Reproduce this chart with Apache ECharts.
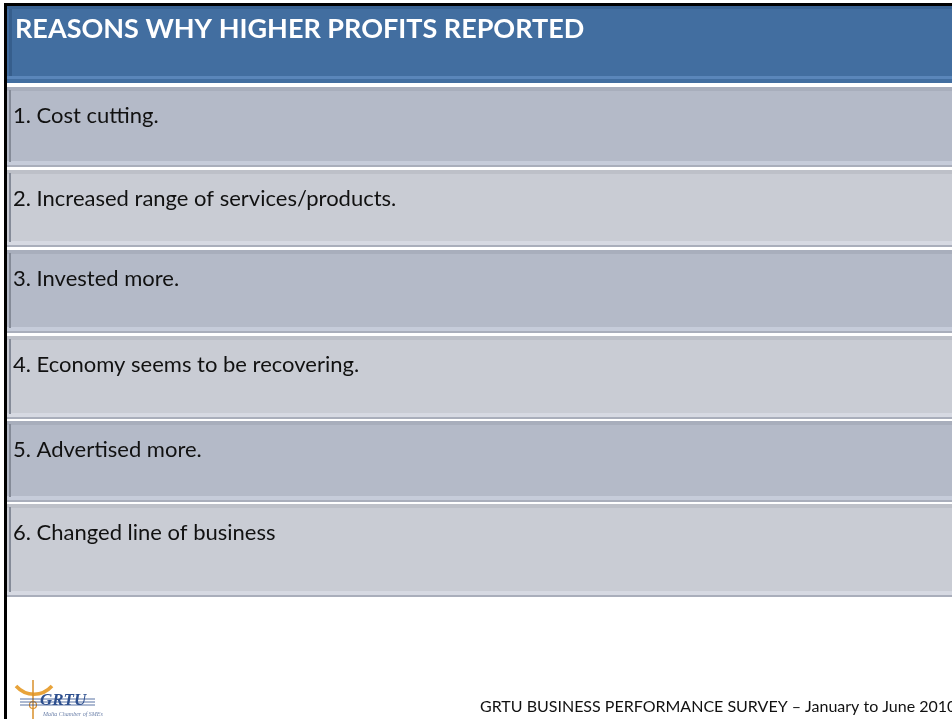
<!DOCTYPE html>
<html>
<head>
<meta charset="utf-8">
<script src="https://cdn.jsdelivr.net/npm/echarts@6/dist/echarts.min.js"></script>
<style>
  html, body { margin: 0; padding: 0; background: #fff; }
  #main { width: 952px; height: 719px; }
</style>
</head>
<body>
<div id="main"></div>
<script>
var titleText = 'REASONS WHY HIGHER PROFITS REPORTED';
var reasons = [
  '1. Cost cutting.',
  '2. Increased range of services/products.',
  '3. Invested more.',
  '4. Economy seems to be recovering.',
  '5. Advertised more.',
  '6. Changed line of business'
];
var footerText = 'GRTU BUSINESS PERFORMANCE SURVEY \u2013 January to June 2010';
var logoText = 'GRTU';
var logoSub = 'Malta Chamber of SMEs';

// layout of the rows (pixel bands)
var rowTops = [87, 170, 250, 336, 421, 504];
var rowBottoms = [167, 247, 333, 419, 502, 597];
var rowColors = ['#b4bac8', '#c9ccd4'];
var rowTopStrip = ['#a8aebc', '#bdc0c8'];
var rowBottomStrip = ['#c6ccda', '#d6d9e2'];

var chart = echarts.init(document.getElementById('main'));
var elements = [];

// slide border
elements.push({ type: 'rect', shape: { x: 4, y: 3, width: 948, height: 3 }, style: { fill: '#000' } });
elements.push({ type: 'rect', shape: { x: 4, y: 3, width: 3, height: 716 }, style: { fill: '#000' } });

// header
elements.push({ type: 'rect', shape: { x: 7, y: 6, width: 945, height: 77 }, style: { fill: '#426ea0' } });
elements.push({ type: 'rect', shape: { x: 7, y: 6, width: 945, height: 3 }, style: { fill: '#3a6392' } });
elements.push({ type: 'rect', shape: { x: 9, y: 9, width: 3, height: 68 }, style: { fill: '#365e8c' } });
elements.push({ type: 'rect', shape: { x: 7, y: 76, width: 945, height: 3 }, style: { fill: '#5a86ba' } });
elements.push({
  type: 'text', left: 15, top: 16,
  style: { text: titleText, fill: '#fff', font: 'bold 27px Lato' }
});

reasons.forEach(function (r, i) {
  var t = rowTops[i], b = rowBottoms[i], k = i % 2;
  elements.push({ type: 'rect', shape: { x: 7, y: t, width: 945, height: b - t }, style: { fill: rowColors[k] } });
  elements.push({ type: 'rect', shape: { x: 7, y: t, width: 945, height: 4 }, style: { fill: rowTopStrip[k] } });
  elements.push({ type: 'rect', shape: { x: 7, y: b - 6, width: 945, height: 4 }, style: { fill: rowBottomStrip[k] } });
  elements.push({ type: 'rect', shape: { x: 7, y: b - 2, width: 945, height: 2 }, style: { fill: '#a9aebb' } });
  elements.push({ type: 'rect', shape: { x: 9, y: t + 3, width: 2, height: b - t - 8 }, style: { fill: '#858b98' } });
  elements.push({
    type: 'text', left: 13, top: t + 18,
    style: { text: r, fill: '#111', font: '22px Lato' }
  });
});

// footer
elements.push({
  type: 'text', left: 480, top: 699,
  style: { text: footerText, fill: '#111', font: '16px Lato' }
});

// logo
elements.push({
  type: 'bezierCurve',
  shape: { x1: 16, y1: 686, x2: 52, y2: 686, cpx1: 26, cpy1: 697, cpx2: 42, cpy2: 697 },
  style: { stroke: '#e8a33a', lineWidth: 3.5, fill: null }
});
elements.push({
  type: 'line', shape: { x1: 33, y1: 680, x2: 33, y2: 719 },
  style: { stroke: '#d98f2a', lineWidth: 1.5 }
});
elements.push({
  type: 'circle', shape: { cx: 33, cy: 705, r: 3.5 },
  style: { stroke: '#d98f2a', lineWidth: 1.2, fill: null }
});
[699, 702, 705].forEach(function (yy) {
  elements.push({ type: 'line', shape: { x1: 20, y1: yy, x2: 95, y2: yy }, style: { stroke: '#2d4f8e', lineWidth: 0.8 } });
});
elements.push({
  type: 'text', left: 40, top: 692,
  style: { text: logoText, fill: '#2d4f8e', font: 'italic bold 17px "Liberation Serif"' }
});
elements.push({
  type: 'text', left: 43, top: 711,
  style: { text: logoSub, fill: '#6a7fa8', font: 'italic 6px "Liberation Serif"' }
});

chart.setOption({
  backgroundColor: '#fff',
  animation: false,
  graphic: { elements: elements }
});
</script>
</body>
</html>
